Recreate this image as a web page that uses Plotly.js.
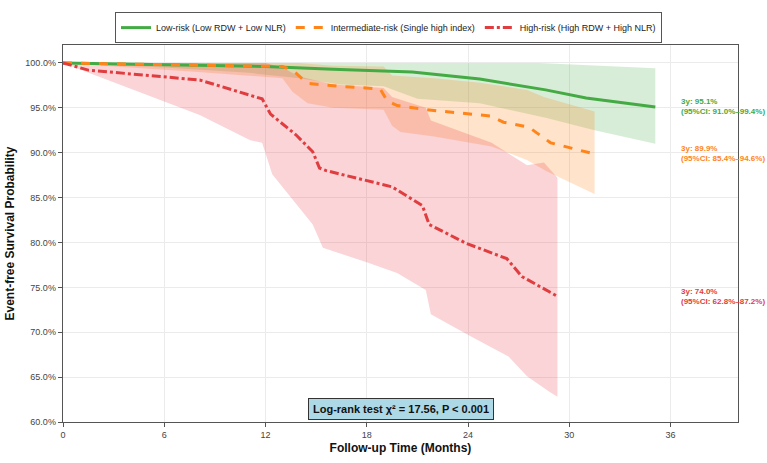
<!DOCTYPE html>
<html>
<head>
<meta charset="utf-8">
<script src="https://cdn.plot.ly/plotly-3.0.1.min.js"></script>
<style>html,body{margin:0;padding:0;background:#fff;}#chart{width:767px;height:463px;}</style>
</head>
<body>
<div id="chart"></div>
<script>
// ---- Low-risk ----
const lowX = [0, 12, 16, 20.7, 24.7, 28.6, 31, 35.1];
const lowY = [100, 99.6, 99.3, 99.0, 98.2, 97.0, 96.1, 95.1];
const lowUpX = [0, 28.2, 35.1];
const lowUpY = [100, 100, 99.4];
const lowLoX = [0, 6, 11, 14, 16.4, 19, 21, 24.7, 28.6, 31.5, 35.1];
const lowLoY = [100, 99.5, 98.9, 98.3, 97.6, 97.4, 96.0, 95.5, 93.9, 92.5, 91.0];
// ---- Intermediate-risk ----
const midX = [0, 6, 13, 13.6, 14.2, 14.6, 16.4, 18.8, 19.2, 19.8, 21.5, 25.3, 26.1, 27.6, 28.9, 31.4];
const midY = [100, 99.8, 99.6, 99.2, 98.2, 97.7, 97.4, 97.1, 95.8, 95.25, 94.8, 94.1, 93.4, 92.85, 91.1, 89.9];
const midUpX = [0, 14, 16, 19, 19.5, 22, 24.7, 27.5, 28.5, 31.5];
const midUpY = [100, 100, 99.7, 99.6, 98.6, 98.3, 97.8, 97.0, 96.2, 94.6];
const midLoX = [0, 8, 13, 13.6, 14.5, 16, 19, 19.5, 20, 22, 25.4, 27.5, 28.6, 29.8, 31.5];
const midLoY = [100, 99.0, 98.3, 96.8, 95.5, 95.0, 94.8, 93.0, 92.3, 91.8, 90.7, 89.2, 88.0, 86.9, 85.4];
// ---- High-risk ----
const highX = [0, 1.5, 8.1, 11.5, 11.8, 12.3, 12.65, 13.8, 14.8, 15.2, 15.6, 19.5, 21.3, 21.7, 23.9, 26.3, 27.2, 28.6, 29.3];
const highY = [100, 99.2, 98.1, 96.2, 96.0, 94.3, 93.75, 92.0, 90.1, 88.3, 88.0, 86.2, 84.1, 82.0, 79.9, 78.2, 76.2, 74.7, 74.0];
const highUpX = [0, 12, 13, 14, 16, 19, 19.5, 21.5, 21.8, 25.4, 27.5, 28.5, 29.3];
const highUpY = [100, 100, 99.5, 98.5, 97.6, 97.2, 96.2, 95.0, 93.6, 91.1, 88.6, 88.9, 87.2];
const highLoX = [0, 8.1, 11.1, 11.8, 12.4, 14.8, 15.4, 18, 19.8, 21.5, 21.8, 24.1, 26.4, 27.5, 28.8, 29.3];
const highLoY = [100, 94.2, 91.4, 91.1, 87.6, 82.0, 79.4, 77.8, 76.6, 74.7, 72.0, 69.6, 67.3, 65.1, 63.4, 62.8];

const groupNames = ['Low-risk (Low RDW + Low NLR)', 'Intermediate-risk (Single high index)', 'High-risk (High RDW + High NLR)'];
const labels3y = ['3y: 95.1%<br>(95%CI: 91.0%–99.4%)', '3y: 89.9%<br>(95%CI: 85.4%–94.6%)', '3y: 74.0%<br>(95%CI: 62.8%–87.2%)'];
const xTicks = [0, 6, 12, 18, 24, 30, 36];
const yTicks = [60, 65, 70, 75, 80, 85, 90, 95, 100];
const logRankText = 'Log-rank test χ² = 17.56, P < 0.001';

const colors = ['#44aa44', '#ff8419', '#df3d3f'];
const fills = ['rgba(77,175,74,0.22)', 'rgba(255,127,14,0.22)', 'rgba(228,40,50,0.2)'];
const dashes = ['solid', 'dash', 'dashdot'];

const groups = [
  {x: lowX, y: lowY, ux: lowUpX, uy: lowUpY, lx: lowLoX, ly: lowLoY},
  {x: midX, y: midY, ux: midUpX, uy: midUpY, lx: midLoX, ly: midLoY},
  {x: highX, y: highY, ux: highUpX, uy: highUpY, lx: highLoX, ly: highLoY}
];

const traces = [];
groups.forEach((g, i) => {
  traces.push({
    x: g.ux.concat(g.lx.slice().reverse()),
    y: g.uy.concat(g.ly.slice().reverse()),
    type: 'scatter', mode: 'lines', fill: 'toself', fillcolor: fills[i],
    line: {width: 0}, showlegend: false, hoverinfo: 'skip'
  });
});
groups.forEach((g, i) => {
  traces.push({
    x: g.x, y: g.y, type: 'scatter', mode: 'lines', name: groupNames[i],
    line: {color: colors[i], width: 3, dash: dashes[i]}
  });
});

const annotations = groups.map((g, i) => ({
  x: 36.5, y: g.y[g.y.length - 1], xref: 'x', yref: 'y', text: '<b>' + labels3y[i] + '</b>',
  showarrow: false, xanchor: 'left', yanchor: 'middle', align: 'left',
  font: {size: 8, color: colors[i], family: 'Liberation Sans, Arial, sans-serif'}
}));
annotations.push({
  x: 20, y: 61.5, xref: 'x', yref: 'y', text: '<b>' + logRankText + '</b>', showarrow: false,
  bgcolor: '#add8e6', bordercolor: '#333', borderwidth: 1, borderpad: 4,
  font: {size: 11, color: '#111', family: 'Liberation Sans, Arial, sans-serif'}
});

const layout = {
  width: 767, height: 463,
  margin: {l: 63, r: 29, t: 22, b: 41},
  paper_bgcolor: '#fff', plot_bgcolor: '#fff',
  font: {family: 'Liberation Sans, Arial, sans-serif', size: 9, color: '#444'},
  xaxis: {
    range: [0, 40], tickvals: xTicks, ticktext: xTicks.map(String),
    showgrid: true, gridcolor: '#ebebeb', zeroline: false,
    showline: true, linecolor: '#555', linewidth: 1.3, mirror: true,
    ticks: 'outside', ticklen: 4, tickcolor: '#555',
    title: {text: '<b>Follow-up Time (Months)</b>', font: {size: 12, color: '#111'}, standoff: 4}
  },
  yaxis: {
    range: [60, 102], tickvals: yTicks, ticktext: yTicks.map(v => v.toFixed(1) + '%'),
    showgrid: true, gridcolor: '#ebebeb', zeroline: false,
    showline: true, linecolor: '#555', linewidth: 1.3, mirror: true,
    ticks: 'outside', ticklen: 4, tickcolor: '#555',
    title: {text: '<b>Event-free Survival Probability</b>', font: {size: 12, color: '#111'}, standoff: 8}
  },
  legend: {
    orientation: 'h', x: 0.077, xanchor: 'left', y: 1.005, yanchor: 'bottom',
    bordercolor: '#555', borderwidth: 1, bgcolor: '#fff',
    font: {size: 9, color: '#222'}, itemwidth: 30
  },
  annotations: annotations,
  showlegend: true
};

Plotly.newPlot('chart', traces, layout, {displayModeBar: false, staticPlot: true});
</script>
</body>
</html>
